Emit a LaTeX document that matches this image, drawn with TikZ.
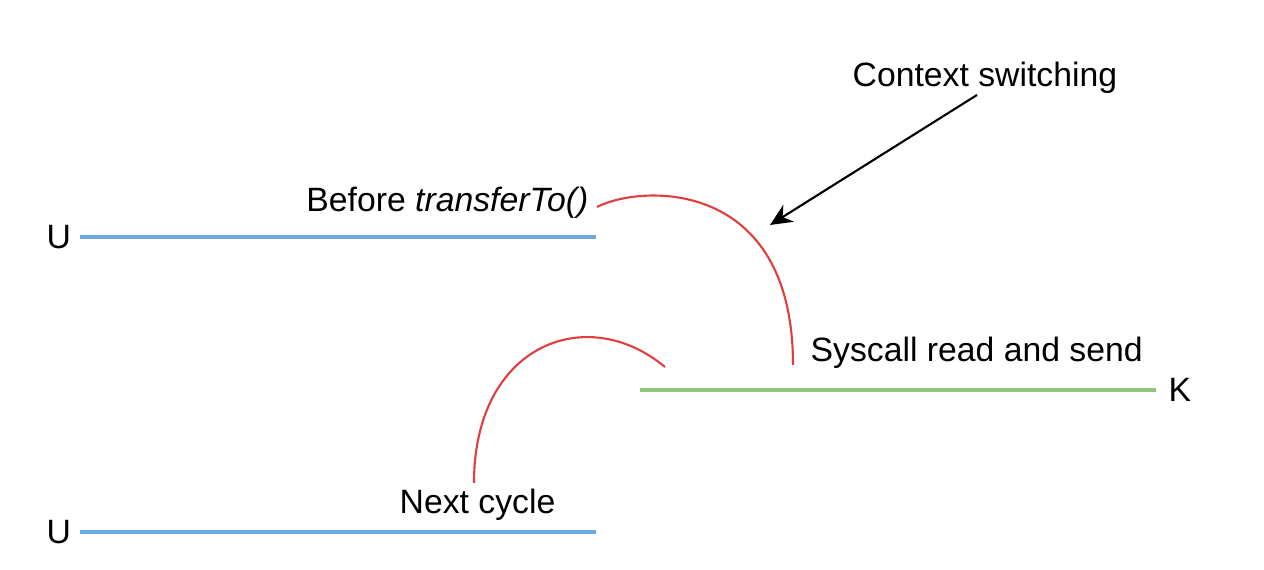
\documentclass[tikz,border=0pt]{standalone}
\usepackage{fontspec}
\setmainfont{Liberation Sans}
\usetikzlibrary{arrows.meta}
\definecolor{B}{RGB}{111, 168, 220}
\definecolor{G}{RGB}{147, 196, 125}
\definecolor{R}{RGB}{224, 62, 62}
\tikzset{
  lbl/.style={inner sep=0pt, font=\fontsize{9.6}{12}\selectfont},
  track/.style={line width=1.1pt},
  switch/.style={R, line width=0.6pt}
}
\begin{document}
\begin{tikzpicture}
  \useasboundingbox (0,0) rectangle (12.64,5.70);
  % user and kernel lines
  \coordinate (u1a) at (0.80,3.33);
  \coordinate (u1b) at (5.96,3.33);
  \coordinate (ka) at (6.40,1.80);
  \coordinate (kb) at (11.56,1.80);
  \coordinate (u2a) at (0.80,0.38);
  \coordinate (u2b) at (5.96,0.38);
  \draw[B, track] (u1a) -- (u1b);
  \draw[G, track] (ka) -- (kb);
  \draw[B, track] (u2a) -- (u2b);
  \node[lbl, anchor=base west] (u1) at (0.46,3.21) {U};
  \node[lbl, anchor=base west] (k) at (11.68,1.68) {K};
  \node[lbl, anchor=base west] (u2) at (0.46,0.26) {U};
  % labels
  \node[lbl, anchor=base east] (before) at (5.89,3.58) {Before \textit{transferTo()}};
  \node[lbl, anchor=base west] (ctx) at (8.52,4.83) {Context switching};
  \node[lbl, anchor=base west] (sys) at (8.10,2.08) {Syscall read and send};
  \node[lbl, anchor=base west] (next) at (3.99,0.56) {Next cycle};
  % switches
  \coordinate (s1a) at (5.97,3.63);
  \coordinate (s1b) at (7.93,2.05);
  \coordinate (s2a) at (4.74,0.87);
  \coordinate (s2b) at (6.65,2.03);
  \draw[switch] (s1a) .. controls (6.42,3.86) and (7.93,3.92) .. (s1b);
  \draw[switch] (s2a) .. controls (4.74,2.26) and (5.87,2.68) .. (s2b);
  % arrow
  \coordinate (tip) at (7.70,3.45);
  \coordinate (tail) at (9.77,4.75);
  \draw[black, line width=0.6pt, -{Stealth[length=2.2mm, width=2mm]}] (tail) -- (tip);
\end{tikzpicture}
\end{document}
